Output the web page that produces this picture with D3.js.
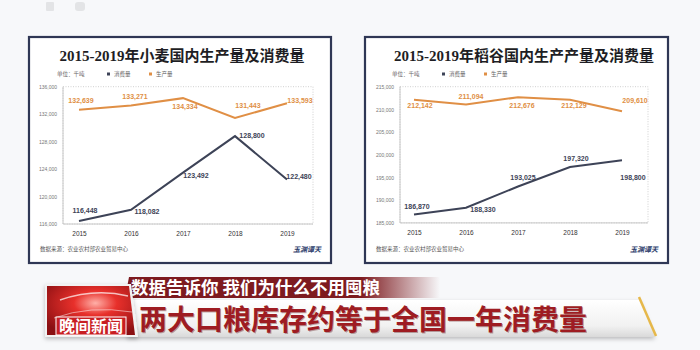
<!DOCTYPE html>
<html><head><meta charset="utf-8">
<script src="https://cdn.jsdelivr.net/npm/d3@7"></script>
<style>html,body{margin:0;padding:0;background:#f7f8fa;}svg{display:block;}</style>
</head><body>
<svg id="c" width="700" height="350"></svg>
<script>
// ---------- data ----------
const years = ["2015","2016","2017","2018","2019"];
const wheatProduction = [132639, 133271, 134334, 131443, 133593];
const wheatConsumption = [116448, 118082, 123492, 128800, 122480];
const riceProduction = [212142, 211094, 212676, 212129, 209610];
const riceConsumption = [186870, 188330, 193025, 197320, 198800];
const wheatTicks = [116000, 120000, 124000, 128000, 132000, 136000];
const riceTicks = [185000, 190000, 195000, 200000, 205000, 210000, 215000];
const wheatTitle = "2015-2019年小麦国内生产量及消费量";
const riceTitle = "2015-2019年稻谷国内生产产量及消费量";
const legendUnit = "单位：千吨";
const legendNames = ["消费量", "生产量"];
const sourceText = "数据来源：农业农村部农业贸易中心";
const signText = "玉渊谭天";
const tagText = "数据告诉你 我们为什么不用囤粮";
const headline = "两大口粮库存约等于全国一年消费量";
const logoText = "晚间新闻";

// ---------- layout ----------
const svg = d3.select("#c");
const C_CONS = "#3d4357", C_PROD = "#e08f45";
const fmt = d3.format(",");
const defs = svg.append("defs");

function panel(o) {
  const g = svg.append("g");
  g.append("rect").attr("x", o.px0).attr("y", 37).attr("width", o.px1 - o.px0).attr("height", 226)
    .attr("fill", "#fff").attr("stroke", "#2f3755").attr("stroke-width", 2.2);
  g.append("text").attr("x", o.titleX).attr("y", 61).attr("text-anchor", "middle")
    .attr("font-family", "'Liberation Serif','Noto Sans CJK SC'").attr("font-weight", "bold")
    .attr("font-size", 15).attr("fill", "#1e1e24").text(o.title);
  // legend
  g.append("text").attr("x", o.lx).attr("y", 76).attr("font-family", "'Noto Sans CJK SC'")
    .attr("font-size", 5.5).attr("fill", "#666").text(legendUnit);
  [[C_CONS, o.lx + 50], [C_PROD, o.lx + 92]].forEach((d, i) => {
    g.append("rect").attr("x", d[1]).attr("y", 72.5).attr("width", 3).attr("height", 3).attr("fill", d[0]);
    g.append("text").attr("x", d[1] + 7).attr("y", 76).attr("font-family", "'Noto Sans CJK SC'")
      .attr("font-size", 5.5).attr("fill", "#666").text(legendNames[i]);
  });
  const x = d3.scalePoint().domain(years).range([o.xa, o.xb]);
  const y = d3.scaleLinear().domain(o.ydom).range([o.yb, o.yt]);
  // plot frame
  g.append("rect").attr("x", o.fx0).attr("y", o.yt).attr("width", o.fx1 - o.fx0).attr("height", o.yb - o.yt)
    .attr("fill", "none").attr("stroke", "#c4c4c4").attr("stroke-width", 0.8).attr("stroke-dasharray", "1,1.5");
  g.append("path").attr("d", `M${o.fx0},${o.yt}V${o.yb}H${o.fx1}`).attr("fill", "none")
    .attr("stroke", "#bdbdbd").attr("stroke-width", 0.8);
  // y axis
  const ya = g.append("g").attr("transform", `translate(${o.fx0 - 3},0)`)
    .call(d3.axisLeft(y).tickValues(o.ticks).tickFormat(fmt).tickSize(0));
  ya.select(".domain").remove();
  ya.selectAll("text").attr("font-family", "'Liberation Sans'").attr("font-size", 5).attr("fill", "#777");
  // x axis
  const xa = g.append("g").attr("transform", `translate(0,${o.yb + 3})`)
    .call(d3.axisBottom(x).tickSize(0));
  xa.select(".domain").remove();
  xa.selectAll("text").attr("font-family", "'Liberation Sans'").attr("font-size", 6.5).attr("fill", "#333").attr("dy", "0.9em");
  // lines
  const line = d3.line().x((d, i) => x(years[i])).y(d => y(d));
  [[o.prod, C_PROD, o.prodOff], [o.cons, C_CONS, o.consOff]].forEach(([vals, col, off]) => {
    g.append("path").attr("d", line(vals)).attr("fill", "none").attr("stroke", col)
      .attr("stroke-width", 2).attr("stroke-linejoin", "miter");
    g.selectAll(null).data(vals).enter().append("text")
      .attr("x", (d, i) => x(years[i]) + off[i][0]).attr("y", (d, i) => y(d) + off[i][1])
      .attr("dy", "0.35em").attr("text-anchor", "middle")
      .attr("font-family", "'Liberation Sans'").attr("font-size", 7).attr("font-weight", "bold")
      .attr("fill", col).text(d => fmt(d));
  });
  // footer
  g.append("text").attr("x", o.px0 + 11).attr("y", 251).attr("font-family", "'Noto Sans CJK SC'")
    .attr("font-size", 5.5).attr("fill", "#555").text(sourceText);
  g.append("text").attr("x", o.px1 - 10).attr("y", 252).attr("text-anchor", "end")
    .attr("font-family", "'Noto Sans CJK SC'").attr("font-weight", "bold").attr("font-style", "italic")
    .attr("font-size", 7).attr("fill", "#2a3a6a").text(signText);
}

panel({px0: 29, px1: 331, titleX: 182, title: wheatTitle, lx: 57,
  xa: 79, xb: 287, fx0: 63, fx1: 313, yt: 86.7, yb: 224, ydom: [116000, 136000], ticks: wheatTicks,
  prod: wheatProduction, cons: wheatConsumption,
  prodOff: [[2,-9],[4,-9],[2,8],[13,-12],[13,-3]],
  consOff: [[6,-10],[16,2],[13,2.5],[17,-1],[12,-2.5]]});
panel({px0: 365, px1: 668, titleX: 524, title: riceTitle, lx: 392,
  xa: 414, xb: 622, fx0: 400, fx1: 648, yt: 86.7, yb: 222.9, ydom: [185000, 215000], ticks: riceTicks,
  prod: riceProduction, cons: riceConsumption,
  prodOff: [[6,6],[5,-8],[4,8],[4,6],[13,-10.5]],
  consOff: [[3,-7.5],[17,2],[5,-9],[6,-8],[11,17]]});

// faint top-left marks
svg.append("rect").attr("x", 46).attr("y", 2).attr("width", 8).attr("height", 9).attr("fill", "#e3e4e6").attr("rx", 1);
svg.append("rect").attr("x", 75).attr("y", 2).attr("width", 10).attr("height", 9).attr("fill", "#e3e4e6").attr("rx", 3);

// ---------- banner ----------
const gBar = defs.append("linearGradient").attr("id", "gbar").attr("x1", 0).attr("y1", 0).attr("x2", 0).attr("y2", 1);
gBar.append("stop").attr("offset", 0).attr("stop-color", "#ffffff");
gBar.append("stop").attr("offset", 0.7).attr("stop-color", "#f1f1f1");
gBar.append("stop").attr("offset", 1).attr("stop-color", "#d9d9d9");
const gTag = defs.append("linearGradient").attr("id", "gtag").attr("x1", 0).attr("y1", 0).attr("x2", 1).attr("y2", 0);
gTag.append("stop").attr("offset", 0).attr("stop-color", "#7d1a1f");
gTag.append("stop").attr("offset", 0.75).attr("stop-color", "#7d1a1f");
gTag.append("stop").attr("offset", 1).attr("stop-color", "#7d1a1f").attr("stop-opacity", 0);
const gGlobe = defs.append("radialGradient").attr("id", "gglobe").attr("cx", 0.55).attr("cy", 0.35).attr("r", 0.7);
gGlobe.append("stop").attr("offset", 0).attr("stop-color", "#ffb0a8");
gGlobe.append("stop").attr("offset", 0.35).attr("stop-color", "#e8302b");
gGlobe.append("stop").attr("offset", 1).attr("stop-color", "#8a0f12");
const gShadow = defs.append("filter").attr("id", "sh").attr("x", -0.1).attr("y", -0.3).attr("width", 1.2).attr("height", 1.8);
gShadow.append("feDropShadow").attr("dx", 0).attr("dy", 2).attr("stdDeviation", 2).attr("flood-color", "#000").attr("flood-opacity", 0.25);

// main bar
svg.append("path").attr("d", "M127,300H640L655,337H127Z").attr("fill", "url(#gbar)").attr("filter", "url(#sh)");
svg.append("path").attr("d", "M639,297L656,336").attr("stroke", "#e6b84a").attr("stroke-width", 2.5);
// tag
svg.append("path").attr("d", "M129,277H440V298H125Z").attr("fill", "url(#gtag)");
svg.append("text").attr("x", 131).attr("y", 294).attr("font-family", "'Noto Sans CJK SC'").attr("font-weight", "bold")
  .attr("font-size", 17.5).attr("fill", "#fff").text(tagText);
// logo
svg.append("path").attr("d", "M45,284H131L138,337H45Z").attr("fill", "#f2f2f2").attr("filter", "url(#sh)");
svg.append("path").attr("d", "M47,286H129L135,335H47Z").attr("fill", "url(#gglobe)");
svg.append("path").attr("d", "M60,300Q95,288 128,296").attr("stroke", "#fff").attr("stroke-width", 1.5).attr("fill", "none").attr("opacity", 0.7);
svg.append("path").attr("d", "M54,318Q90,305 132,312").attr("stroke", "#fff").attr("stroke-width", 1).attr("fill", "none").attr("opacity", 0.5);
svg.append("rect").attr("x", 56).attr("y", 317).attr("width", 70).attr("height", 18).attr("fill", "#c81e22").attr("stroke", "#fff").attr("stroke-width", 1);
svg.append("text").attr("x", 91).attr("y", 332).attr("text-anchor", "middle").attr("font-family", "'Noto Sans CJK SC'")
  .attr("font-weight", "bold").attr("font-size", 16).attr("fill", "#fff").text(logoText);
// headline
svg.append("text").attr("x", 139).attr("y", 330).attr("font-family", "'Noto Sans CJK SC'").attr("font-weight", "bold")
  .attr("font-size", 28).attr("fill", "#5a0f12").attr("transform", "translate(1,1)").attr("opacity", 0.35).text(headline);
svg.append("text").attr("x", 139).attr("y", 330).attr("font-family", "'Noto Sans CJK SC'").attr("font-weight", "bold")
  .attr("font-size", 28).attr("fill", "#9e1c22").text(headline);
</script>
</body></html>
